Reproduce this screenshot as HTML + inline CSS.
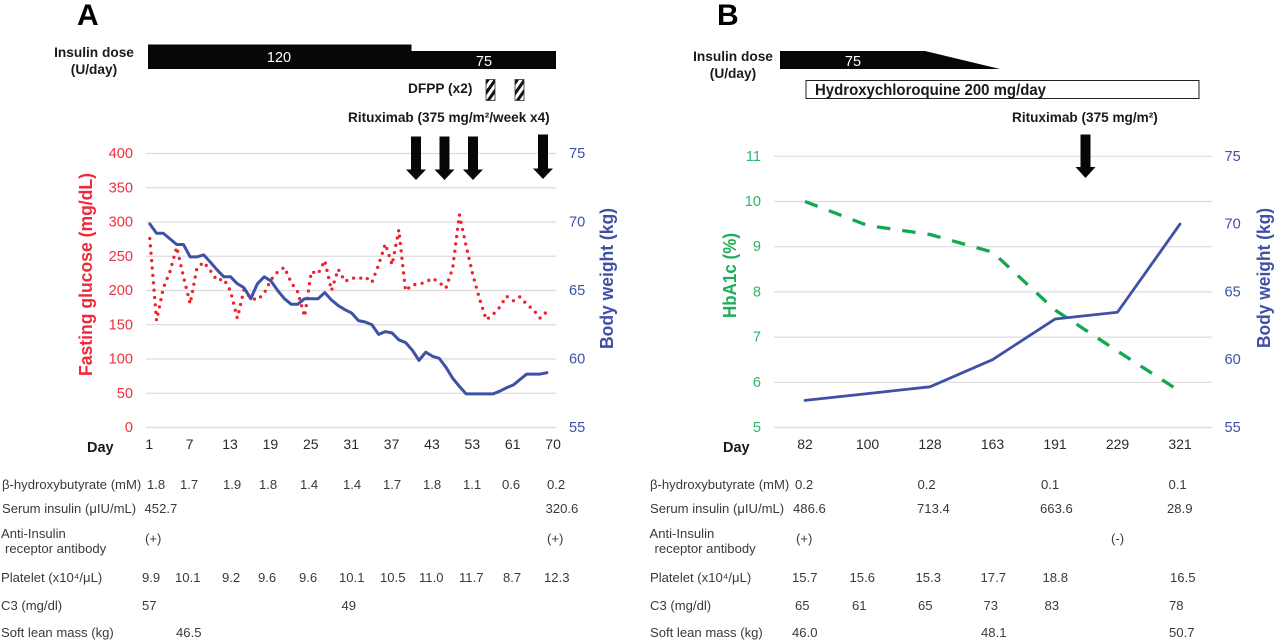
<!DOCTYPE html>
<html lang="en">
<head>
<meta charset="utf-8">
<title>Clinical course charts</title>
<style>
html,body{margin:0;padding:0;background:#fff;width:1274px;height:640px;overflow:hidden}
svg{display:block;font-family:"Liberation Sans",Arial,sans-serif}
.t{font-size:13.1px;fill:#3a3a3a}
.b{font-weight:bold;fill:#1a1a1a}
</style>
</head>
<body>
<svg id="fig" xmlns="http://www.w3.org/2000/svg" width="1274" height="640" viewBox="0 0 1274 640">
<defs>
<pattern id="hatch" patternUnits="userSpaceOnUse" width="6" height="6" patternTransform="rotate(35)">
<rect width="6" height="6" fill="#fff"/><rect width="3" height="6" fill="#111"/>
</pattern>
</defs>

<!-- Panel A header -->
<text x="77" y="25" font-size="30" font-weight="bold" fill="#000">A</text>
<text class="b" x="94" y="57" font-size="13.7" text-anchor="middle">Insulin dose</text>
<text class="b" x="94" y="74" font-size="13.7" text-anchor="middle">(U/day)</text>
<path d="M148 44.5H411.5V51H556V69H148Z" fill="#050708"/>
<text x="279" y="62" font-size="14.5" fill="#fff" text-anchor="middle">120</text>
<text x="484" y="66" font-size="14.5" fill="#fff" text-anchor="middle">75</text>
<text class="b" x="408" y="93" font-size="13.7">DFPP (x2)</text>
<rect x="486" y="79.5" width="9" height="21" fill="url(#hatch)" stroke="#333" stroke-width="0.8"/>
<rect x="515" y="79.5" width="9" height="21" fill="url(#hatch)" stroke="#333" stroke-width="0.8"/>
<text class="b" x="348" y="122" font-size="13.6">Rituximab (375 mg/m²/week x4)</text>

<!-- Panel B header -->
<text x="717" y="25" font-size="30" font-weight="bold" fill="#000">B</text>
<text class="b" x="733" y="61" font-size="13.7" text-anchor="middle">Insulin dose</text>
<text class="b" x="733" y="78" font-size="13.7" text-anchor="middle">(U/day)</text>
<path d="M780 51H925L1000 69H780Z" fill="#050708"/>
<text x="853" y="66" font-size="14.5" fill="#fff" text-anchor="middle">75</text>
<rect x="806" y="80.5" width="393" height="18" fill="#fff" stroke="#222" stroke-width="1"/>
<text class="b" x="815" y="95" font-size="15.5" textLength="231" lengthAdjust="spacingAndGlyphs">Hydroxychloroquine 200 mg/day</text>
<text class="b" x="1012" y="122" font-size="13.6">Rituximab (375 mg/m²)</text>

<!-- Charts (drawn by script) -->
<g id="chartA"></g>
<g id="chartB"></g>

<!-- Treatment arrows sit above the gridlines -->
<path d="M411 136.5H421V169.5H426L416 180L406 169.5H411Z" fill="#050708"/>
<path d="M439.5 136.5H449.5V169.5H454.5L444.5 180L434.5 169.5H439.5Z" fill="#050708"/>
<path d="M468 136.5H478V169.5H483L473 180L463 169.5H468Z" fill="#050708"/>
<path d="M538 134.5H548V168.5H553L543 179L533 168.5H538Z" fill="#050708"/>
<path d="M1080.5 134.5H1090.5V167H1095.5L1085.5 178L1075.5 167H1080.5Z" fill="#050708"/>

<!-- Axis titles -->
<text transform="translate(92,376) rotate(-90)" font-size="18" font-weight="bold" fill="#f0293a" textLength="203" lengthAdjust="spacingAndGlyphs">Fasting glucose (mg/dL)</text>
<text transform="translate(613,349) rotate(-90)" font-size="18" font-weight="bold" fill="#3f51a5" textLength="141" lengthAdjust="spacingAndGlyphs">Body weight (kg)</text>
<text transform="translate(736,318) rotate(-90)" font-size="18" font-weight="bold" fill="#1fae57" textLength="85" lengthAdjust="spacingAndGlyphs">HbA1c (%)</text>
<text transform="translate(1270,348) rotate(-90)" font-size="18" font-weight="bold" fill="#3f51a5" textLength="140" lengthAdjust="spacingAndGlyphs">Body weight (kg)</text>
<text class="b" x="87" y="452" font-size="14.5">Day</text>
<text class="b" x="723" y="452" font-size="14.5">Day</text>

<!-- Table A -->
<g class="t">
<text class="t" x="2" y="489">β-hydroxybutyrate (mM)</text>
<text class="t" x="147" y="489">1.8</text>
<text class="t" x="180" y="489">1.7</text>
<text class="t" x="223" y="489">1.9</text>
<text class="t" x="259" y="489">1.8</text>
<text class="t" x="300" y="489">1.4</text>
<text class="t" x="343" y="489">1.4</text>
<text class="t" x="383" y="489">1.7</text>
<text class="t" x="423" y="489">1.8</text>
<text class="t" x="463" y="489">1.1</text>
<text class="t" x="502" y="489">0.6</text>
<text class="t" x="547" y="489">0.2</text>
<text class="t" x="2" y="513">Serum insulin (μIU/mL)</text>
<text class="t" x="144.5" y="513">452.7</text>
<text class="t" x="545.5" y="513">320.6</text>
<text class="t" x="1" y="538">Anti-Insulin</text>
<text class="t" x="5" y="553">receptor antibody</text>
<text class="t" x="145" y="543">(+)</text>
<text class="t" x="547" y="543">(+)</text>
<text class="t" x="1" y="582">Platelet (x10⁴/μL)</text>
<text class="t" x="142" y="582">9.9</text>
<text class="t" x="175" y="582">10.1</text>
<text class="t" x="222" y="582">9.2</text>
<text class="t" x="258" y="582">9.6</text>
<text class="t" x="299" y="582">9.6</text>
<text class="t" x="339" y="582">10.1</text>
<text class="t" x="380" y="582">10.5</text>
<text class="t" x="419" y="582">11.0</text>
<text class="t" x="459" y="582">11.7</text>
<text class="t" x="503" y="582">8.7</text>
<text class="t" x="544" y="582">12.3</text>
<text class="t" x="1" y="610">C3 (mg/dl)</text>
<text class="t" x="142" y="610">57</text>
<text class="t" x="341.5" y="610">49</text>
<text class="t" x="1" y="637">Soft lean mass (kg)</text>
<text class="t" x="176" y="637">46.5</text>
</g>

<!-- Table B -->
<g class="t">
<text class="t" x="650" y="489">β-hydroxybutyrate (mM)</text>
<text class="t" x="795" y="489">0.2</text>
<text class="t" x="917.5" y="489">0.2</text>
<text class="t" x="1041" y="489">0.1</text>
<text class="t" x="1168.5" y="489">0.1</text>
<text class="t" x="650" y="513">Serum insulin (μIU/mL)</text>
<text class="t" x="793" y="513">486.6</text>
<text class="t" x="917" y="513">713.4</text>
<text class="t" x="1040" y="513">663.6</text>
<text class="t" x="1167" y="513">28.9</text>
<text class="t" x="649.5" y="538">Anti-Insulin</text>
<text class="t" x="654.5" y="553">receptor antibody</text>
<text class="t" x="796" y="543">(+)</text>
<text class="t" x="1111" y="543">(-)</text>
<text class="t" x="650" y="582">Platelet (x10⁴/μL)</text>
<text class="t" x="792" y="582">15.7</text>
<text class="t" x="849.5" y="582">15.6</text>
<text class="t" x="915.5" y="582">15.3</text>
<text class="t" x="980.5" y="582">17.7</text>
<text class="t" x="1042.5" y="582">18.8</text>
<text class="t" x="1170" y="582">16.5</text>
<text class="t" x="650" y="610">C3 (mg/dl)</text>
<text class="t" x="795" y="610">65</text>
<text class="t" x="852" y="610">61</text>
<text class="t" x="918" y="610">65</text>
<text class="t" x="983.5" y="610">73</text>
<text class="t" x="1044.5" y="610">83</text>
<text class="t" x="1169" y="610">78</text>
<text class="t" x="650" y="637">Soft lean mass (kg)</text>
<text class="t" x="792" y="637">46.0</text>
<text class="t" x="981" y="637">48.1</text>
<text class="t" x="1169" y="637">50.7</text>
</g>
</svg>

<script>
// Panel A data
const dayTicksA = ["1","7","13","19","25","31","37","43","53","61","70"];
const glucoseTicks = [0,50,100,150,200,250,300,350,400];
const weightTicks = [55,60,65,70,75];
const glucoseA = [275.9,156.2,203.4,227.7,263.3,220.4,180.5,232.6,241.4,229.2,214.6,217,199,159.6,201,188.8,186.4,196,215.6,227.3,234,211.7,197.6,162,227.7,224.3,243.8,200,231.1,213.1,218.5,217,220,211.7,237.5,268.1,237.5,288.6,199.5,208.3,209.2,212.2,218,211.7,203.4,232.6,310.5,265.2,222.9,187.8,157.2,165,175.7,191.7,184.9,190.8,180,171.8,159.6,169.3];
const weightA = [69.86,69.18,69.18,68.77,68.36,68.36,67.45,67.45,67.6,67.07,66.5,66,66,65.5,65.2,64.4,65.5,66,65.7,65,64.4,64,64,64.4,64.4,64.4,64.85,64.3,63.9,63.6,63.35,62.8,62.7,62.5,61.8,62,61.9,61.4,61.2,60.65,59.9,60.5,60.2,60.05,59.4,58.6,58,57.45,57.45,57.45,57.45,57.45,57.65,57.9,58.1,58.5,58.9,58.9,58.9,59];

// Panel B data
const dayTicksB = ["82","100","128","163","191","229","321"];
const hba1cTicks = [5,6,7,8,9,10,11];
const hba1cB = [10,9.47,9.27,8.88,7.6,6.69,5.8];
const weightB = [57,57.5,58,60,63,63.5,70];

const NS = "http://www.w3.org/2000/svg";
function mk(parent, tag, attrs, text) {
  const el = document.createElementNS(NS, tag);
  for (const k in attrs) el.setAttribute(k, attrs[k]);
  if (text !== undefined) el.textContent = text;
  parent.appendChild(el);
  return el;
}
function linear(d0, d1, r0, r1) {
  return v => r0 + (v - d0) * (r1 - r0) / (d1 - d0);
}
function pts(values, x, y) {
  return values.map((v, i) => x(i).toFixed(2) + "," + y(v).toFixed(2)).join(" ");
}

function drawChartA() {
  const g = document.getElementById("chartA");
  const x = linear(0, 1, 149.8, 156.53);
  const yL = linear(0, 400, 427.5, 153.5);
  const yR = linear(55, 75, 427.5, 153.5);
  glucoseTicks.forEach(t => {
    const l = mk(g, "line", {x1:146, x2:556, y1:yL(t), y2:yL(t), stroke:"#dcdcdc", "stroke-width":1.2});
    
    
    const s = mk(g, "text", {x:133, y:yL(t)+4.5, "text-anchor":"end", "font-size":14.6, fill:"#f0303f"}, String(t));
    
    
  });
  weightTicks.forEach(t => {
    const s = mk(g, "text", {x:569, y:yR(t)+4.5, "font-size":14.6, fill:"#3f51a5"}, String(t));
    
    
  });
  dayTicksA.forEach((t, i) => {
    const s = mk(g, "text", {x:x(i*6)-0.5, y:449, "text-anchor":"middle", "font-size":14, fill:"#2a2a2a"}, t);
    
    
  });
  const r = mk(g, "polyline", {points:pts(glucoseA, x, yL), fill:"none", stroke:"#f0202f", "stroke-width":3.3, "stroke-linecap":"round", "stroke-linejoin":"round", "stroke-dasharray":"0 7.4"});
  
  
  const b = mk(g, "polyline", {points:pts(weightA, x, yR), fill:"none", stroke:"#3f51a5", "stroke-width":3, "stroke-linecap":"round", "stroke-linejoin":"round"});
  
  
}

function drawChartB() {
  const g = document.getElementById("chartB");
  const x = linear(0, 1, 805, 867.5);
  const yL = linear(5, 11, 427.5, 156.3);
  const yR = linear(55, 75, 427.5, 156.3);
  hba1cTicks.forEach(t => {
    const l = mk(g, "line", {x1:774, x2:1212, y1:yL(t), y2:yL(t), stroke:"#dcdcdc", "stroke-width":1.2});
    
    
    const s = mk(g, "text", {x:761, y:yL(t)+4.5, "text-anchor":"end", "font-size":14.6, fill:"#2fb56a"}, String(t));
    
    
  });
  weightTicks.forEach(t => {
    const s = mk(g, "text", {x:1224.5, y:yR(t)+4.5, "font-size":14.6, fill:"#3f51a5"}, String(t));
    
    
  });
  dayTicksB.forEach((t, i) => {
    const s = mk(g, "text", {x:x(i), y:449, "text-anchor":"middle", "font-size":14, fill:"#2a2a2a"}, t);
    
    
  });
  const gr = mk(g, "polyline", {points:pts(hba1cB, x, yL), fill:"none", stroke:"#12a84f", "stroke-width":3.3, "stroke-dasharray":"13.5 12", "stroke-linejoin":"round"});
  
  
  const b = mk(g, "polyline", {points:pts(weightB, x, yR), fill:"none", stroke:"#3f51a5", "stroke-width":2.8, "stroke-linecap":"round", "stroke-linejoin":"round"});
  
  
}

drawChartA();
drawChartB();
</script>
</body>
</html>
